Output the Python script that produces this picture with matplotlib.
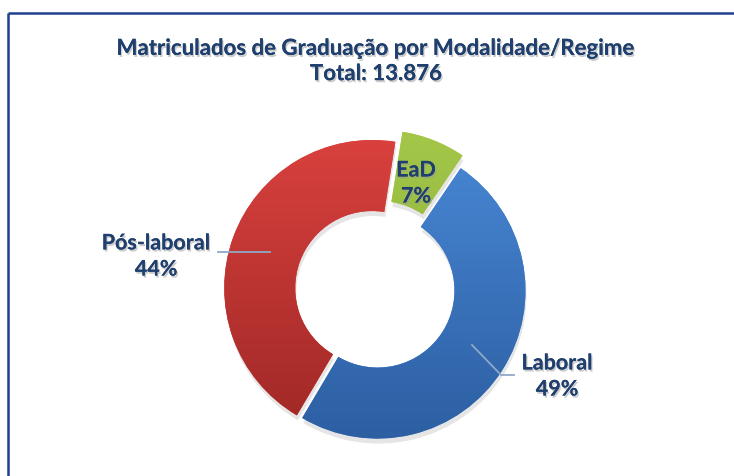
import numpy as np
import matplotlib.pyplot as plt
import matplotlib.patheffects as pe
from matplotlib.colors import LinearSegmentedColormap

categories = ["EaD", "Laboral", "Pós-laboral"]
values = [7, 49, 44]
pct_labels = ["7%", "49%", "44%"]
title = "Matriculados de Graduação por Modalidade/Regime\nTotal: 13.876"

top_colors = ["#a5c84a", "#4a8ad8", "#dc423f"]
bot_colors = ["#7fa632", "#2b5c9f", "#9a2624"]

W, H = 734, 476
fig = plt.figure(figsize=(W / 100, H / 100), dpi=100)
ax = fig.add_axes([0, 0, 1, 1])

cx, cy = 375, H - 289
R = 148
hole = 0.52
explode = [0.08 * R, 0.02 * R, 0.02 * R]

# shadow
sh, _ = ax.pie(values, radius=R, center=(cx + 1, cy - 5), startangle=81,
               counterclock=False, explode=explode,
               wedgeprops=dict(width=R * (1 - hole), linewidth=0),
               colors=["#000000"] * 3, frame=True)
for w in sh:
    w.set_alpha(0.10)
    w.set_zorder(1)

wedges, _ = ax.pie(values, radius=R, center=(cx, cy), startangle=81,
                   counterclock=False, explode=explode,
                   wedgeprops=dict(width=R * (1 - hole), linewidth=0),
                   colors=top_colors, frame=True)

for w, ct, cb in zip(wedges, top_colors, bot_colors):
    w.set_zorder(2)
    cmap = LinearSegmentedColormap.from_list("g", [cb, ct])
    grad = np.linspace(0, 1, 256).reshape(-1, 1)
    im = ax.imshow(grad, cmap=cmap, origin="lower", aspect="auto",
                   extent=[cx - R - 20, cx + R + 20, cy - R - 20, cy + R + 20],
                   zorder=3)
    im.set_clip_path(w)

ax.set_xlim(0, W)
ax.set_ylim(0, H)
ax.set_aspect("equal")
ax.axis("off")

# border (top and left edges visible)
bc = "#1f3f8f"
ax.plot([8, W], [H - 13, H - 13], color=bc, lw=1.8, zorder=10,
        solid_capstyle="butt", clip_on=True)
ax.plot([8, 8], [H - 13, 0], color=bc, lw=1.8, zorder=10,
        solid_capstyle="butt", clip_on=True)

txt_color = "#1f3f6e"
shadow = [pe.withSimplePatchShadow(offset=(1, -1.5), shadow_rgbFace="#9a9a9a", alpha=0.5), pe.Normal()]
font = "Lato"

ax.text(376, H - 61, title, ha="center", va="center", fontsize=16,
        fontweight="bold", color=txt_color, family=font, linespacing=1.25,
        path_effects=shadow, zorder=11)

lab_kw = dict(ha="center", va="center", fontsize=15.5, fontweight="bold",
              color=txt_color, family=font, linespacing=1.3,
              path_effects=shadow, zorder=11)
ax.text(416, H - 183, categories[0] + "\n" + pct_labels[0], **lab_kw)
ax.text(557, H - 376, categories[1] + "\n" + pct_labels[1], **lab_kw)
ax.text(156, H - 256, categories[2] + "\n" + pct_labels[2], **lab_kw)

# leader lines
lc = "#8fa9c9"
ax.plot([218, 270], [H - 252, H - 252], color=lc, lw=1.3, zorder=11)
ax.plot([472, 501, 514], [H - 345, H - 375, H - 375], color=lc, lw=1.3, zorder=11)

fig.savefig("out.png", dpi=100)
